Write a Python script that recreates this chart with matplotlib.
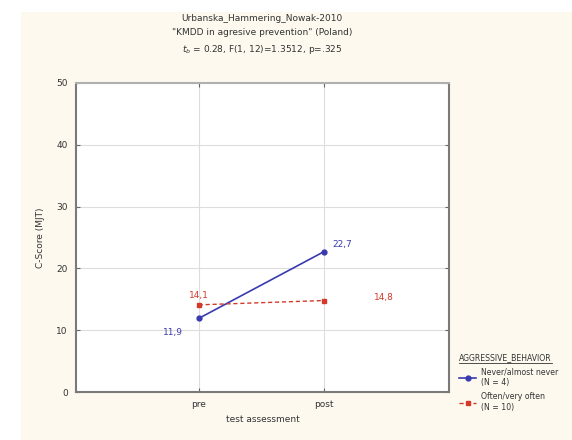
import matplotlib
matplotlib.use("Agg")
import matplotlib.pyplot as plt
from matplotlib.patches import Rectangle
from matplotlib.lines import Line2D

# ---- data ----
categories = ["pre", "post"]
never_vals = [11.9, 22.7]
often_vals = [14.1, 14.8]
never_label = "Never/almost never\n(N = 4)"
often_label = "Often/very often\n(N = 10)"
legend_title = "AGGRESSIVE_BEHAVIOR"
yticks = [0, 10, 20, 30, 40, 50]

W, H = 572, 440
fig = plt.figure(figsize=(W / 100, H / 100), dpi=100, facecolor="white")
# cream panel
fig.patches.append(Rectangle((21 / W, 0), 1, 1 - 12 / H, transform=fig.transFigure,
                             facecolor="#fdf9ef", edgecolor="none", zorder=-10))

L, R, T, B = 76, 449, 83, 392
ax = fig.add_axes([L / W, 1 - B / H, (R - L) / W, (B - T) / H])
ax.set_facecolor("white")

xs = [1, 2]
blue = "#3a3ab0"
red = "#d23a2a"
l1, = ax.plot(xs, never_vals, color=blue, lw=1.2, marker="o", ms=3.5,
              mfc=blue, mec=blue, label=never_label, zorder=3)
l2, = ax.plot(xs, often_vals, color=red, lw=1.0, ls=(0, (3, 2)), marker="s", ms=3.5,
              mfc=red, mec=red, label=often_label, zorder=3)

fmt = lambda v: f"{v:.1f}".replace(".", ",")
fs = 6.5
ax.annotate(fmt(never_vals[0]), (xs[0], never_vals[0]), xytext=(-26, -10),
            textcoords="offset points", color=blue, fontsize=fs, va="center")
ax.annotate(fmt(never_vals[1]), (xs[1], never_vals[1]), xytext=(6, 5),
            textcoords="offset points", color=blue, fontsize=fs, va="center")
ax.annotate(fmt(often_vals[0]), (xs[0], often_vals[0]), xytext=(-7, 7),
            textcoords="offset points", color=red, fontsize=fs, va="center")
ax.annotate(fmt(often_vals[1]), (xs[1], often_vals[1]), xytext=(36, 2),
            textcoords="offset points", color=red, fontsize=fs, va="center")

ax.set_xlim(0.02, 3.0)
ax.set_ylim(0, 50)
ax.set_xticks(xs)
ax.set_xticklabels(categories, fontsize=fs, color="#333333")
ax.set_yticks(yticks)
ax.set_yticklabels([str(t) for t in yticks], fontsize=fs, color="#333333")
ax.grid(True, color="#dddddd", lw=0.8)
ax.set_axisbelow(True)
ax.tick_params(direction="in", length=3, color="#666666", top=True, right=True, pad=6)
for s in ax.spines.values():
    s.set_color("#7a7a7a")
    s.set_linewidth(1.5)
ax.spines["top"].set_color("#b0b0b0")

ax.set_xlabel("test assessment", fontsize=fs, color="#333333", labelpad=4)
ax.set_ylabel("C-Score (MJT)", fontsize=fs, color="#333333", labelpad=8)

title = ("Urbanska_Hammering_Nowak-2010\n"
         "\"KMDD in agresive prevention\" (Poland)\n"
         "$t_b$ = 0.28, F(1, 12)=1.3512, p=.325")
fig.text(262 / W, 1 - 14 / H, title, ha="center", va="top", fontsize=fs,
         color="#333333", linespacing=1.7)

lfs = 5.6
leg = ax.legend(handles=[l1, l2], loc="upper left",
                bbox_to_anchor=(456 / W, 1 - 350 / H), bbox_transform=fig.transFigure,
                frameon=False, fontsize=lfs, title=legend_title,
                title_fontsize=lfs, alignment="left", handlelength=2.2,
                handletextpad=0.6, borderaxespad=0, labelspacing=0.7)
leg.get_title().set_color("#333333")
for t in leg.get_texts():
    t.set_color("#333333")

# underline the legend title
fig.canvas.draw()
bb = leg.get_title().get_window_extent(fig.canvas.get_renderer())
bbf = bb.transformed(fig.transFigure.inverted())
fig.add_artist(Line2D([bbf.x0, bbf.x1], [bbf.y0 - 1 / H, bbf.y0 - 1 / H],
                      transform=fig.transFigure, color="#333333", lw=0.6))

fig.savefig("out.png", dpi=100, facecolor=fig.get_facecolor())
